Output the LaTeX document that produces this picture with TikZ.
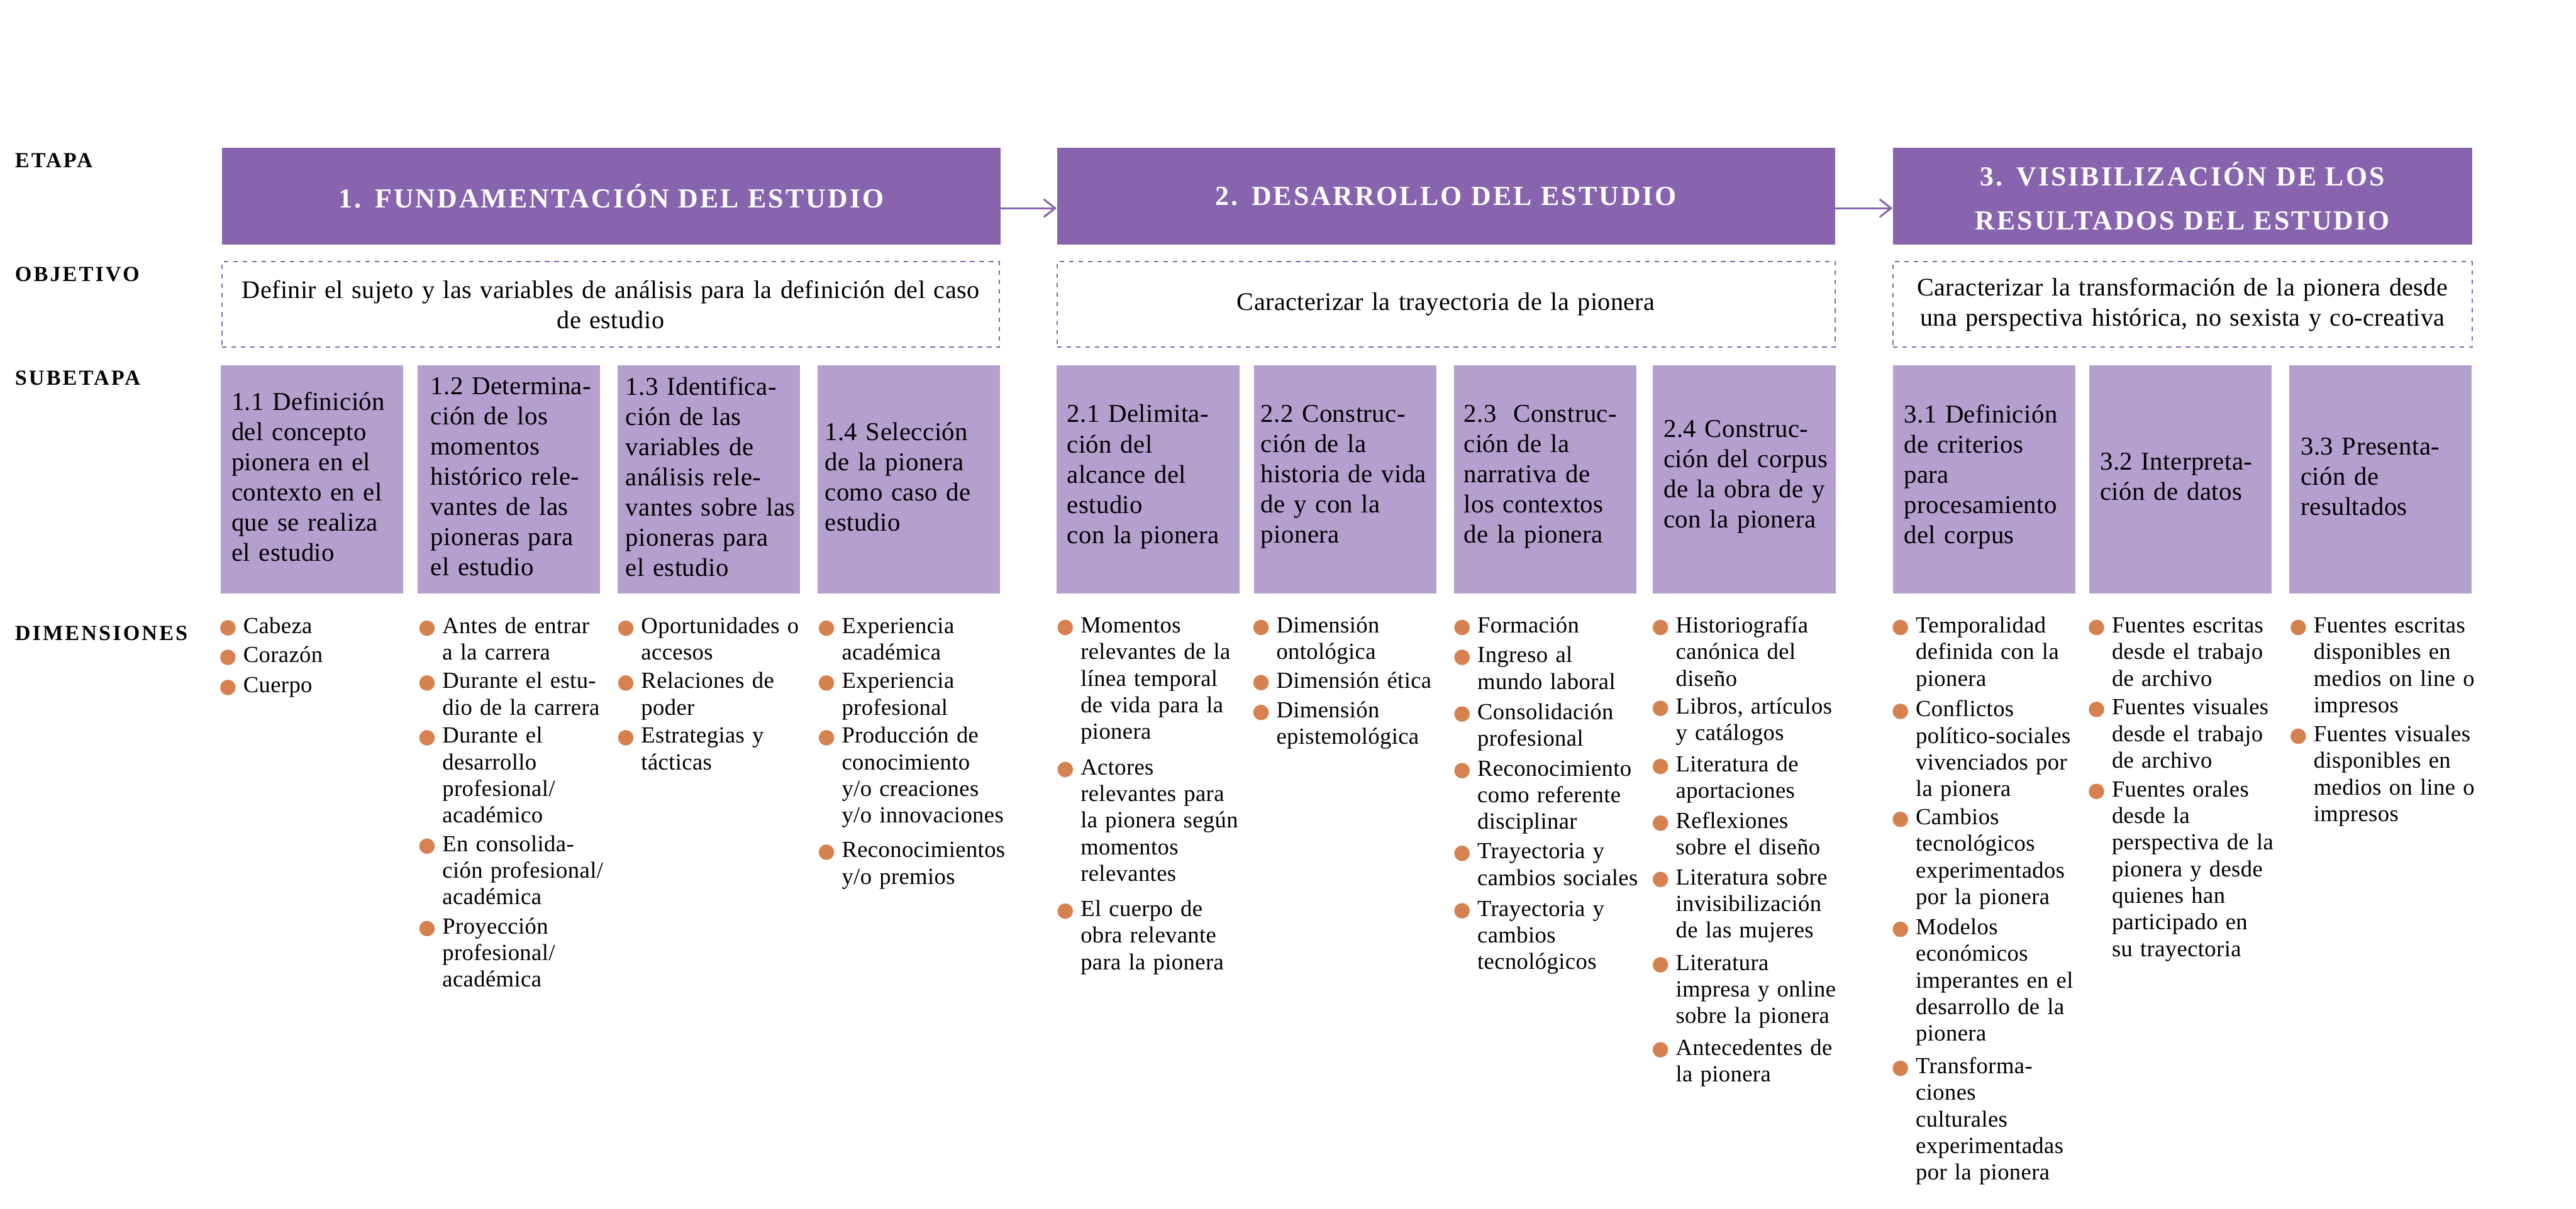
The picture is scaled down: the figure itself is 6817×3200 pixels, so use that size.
\documentclass[tikz,border=0pt]{standalone}
\usepackage{fontspec}
\setmainfont{Liberation Serif}
\newfontfamily\fdim[LetterSpace=1]{Liberation Serif}
\newfontfamily\fsub[LetterSpace=1]{Liberation Serif}
\newfontfamily\fhead[LetterSpace=7]{Liberation Serif}
\newfontfamily\flab[LetterSpace=9]{Liberation Serif}
\usetikzlibrary{arrows.meta}
\definecolor{hdr}{HTML}{8764AD}
\definecolor{subc}{HTML}{B59FCE}
\definecolor{bul}{HTML}{D68150}
\tikzset{
 hbox/.style={fill=hdr, draw=none, text=white, font=\fhead\bfseries\fontsize{20.77}{33}\selectfont, align=center, minimum height=25.7mm, inner sep=0pt},
 obox/.style={draw=hdr, line width=0.35mm, dash pattern=on 1.2mm off 1.3mm, minimum height=22.6mm, font=\fsub\fontsize{19.06}{22.76}\selectfont, align=center, inner sep=0pt},
 sbox/.style={fill=subc, draw=none, minimum width=48.3mm, minimum height=60.4mm, inner sep=0pt},
 stext/.style={font=\fsub\fontsize{19.35}{22.76}\selectfont, text width=47mm, align=left, anchor=west, inner sep=0pt},
 ditem/.style={font=\fdim\fontsize{17.36}{20.03}\selectfont, text width=49mm, align=left, anchor=base west, inner sep=0pt},
 dot/.style={circle, fill=bul, draw=none, minimum size=4.1mm, inner sep=0pt},
 lab/.style={font=\flab\bfseries\fontsize{16.22}{19}\selectfont, anchor=base west, inner sep=0pt},
 arr/.style={draw=hdr, line width=0.5mm, -{Straight Barb[length=3mm,width=4.7mm]}},
}
\newcommand\dimitem[4]{\node[dot] (d#1) at ({#2-40},#3) {}; \node[ditem] (i#1) at (#2,{#3+14}) {#4};}
\begin{document}
\begin{tikzpicture}[x=0.1mm,y=-0.1mm]
\fill[white,use as bounding box] (0,0) rectangle (6817,3200);
% left labels
\node[lab] (lEtapa) at (39,443) {ETAPA};
\node[lab] (lObj) at (39,744) {OBJETIVO};
\node[lab] (lSub) at (39,1019) {SUBETAPA};
\node[lab] (lDim) at (39,1695) {DIMENSIONES};
% stage headers
\node[hbox, minimum width=206.1mm, text width=200mm] (h1) at (1617.5,519.5) {1. FUNDAMENTACIÓN DEL ESTUDIO};
\node[hbox, minimum width=205.9mm, text width=200mm] (h2) at (3826.5,519.5) {2. DESARROLLO DEL ESTUDIO};
\node[hbox, minimum width=153.3mm, text width=148mm] (h3) at (5775.5,519.5) {3. VISIBILIZACIÓN DE LOS\\RESULTADOS DEL ESTUDIO};
\draw[arr] ([yshift=-3.15mm]h1.east) -- ([yshift=-3.15mm]h2.west);
\draw[arr] ([yshift=-3.15mm]h2.east) -- ([yshift=-3.15mm]h3.west);
% objectives
\node[obox, minimum width=205.8mm, text width=201mm] (o1) at (1616,806) {Definir el sujeto y las variables de análisis para la definición del caso\\de estudio};
\node[obox, minimum width=205.9mm, text width=201mm] (o2) at (3826.5,806) {Caracterizar la trayectoria de la pionera};
\node[obox, minimum width=153.3mm, text width=149mm] (o3) at (5775.5,806) {Caracterizar la transformación de la pionera desde\\una perspectiva histórica, no sexista y co-creativa};
% sub-stage boxes
\node[sbox] (s11) at (825,1269) {};
\node[sbox] (s12) at (1346,1269) {};
\node[sbox] (s13) at (1875,1269) {};
\node[sbox] (s14) at (2404.5,1269) {};
\node[sbox] (s21) at (3038,1269) {};
\node[sbox] (s22) at (3559.5,1269) {};
\node[sbox] (s23) at (4088.5,1269) {};
\node[sbox] (s24) at (4616,1269) {};
\node[sbox] (s31) at (5250.5,1269) {};
\node[sbox] (s32) at (5770.5,1269) {};
\node[sbox] (s33) at (6299.5,1269) {};
\node[stext] (t11) at (612,1262) {1.1 Definición\\del concepto\\pionera en el\\contexto en el\\que se realiza\\el estudio};
\node[stext] (t12) at (1139,1262) {1.2 Determina-\\ción de los\\momentos\\histórico rele-\\vantes de las\\pioneras para\\el estudio};
\node[stext] (t13) at (1655,1262) {1.3 Identifica-\\ción de las\\variables de\\análisis rele-\\vantes sobre las\\pioneras para\\el estudio};
\node[stext] (t14) at (2182,1262) {1.4 Selección\\de la pionera\\como caso de\\estudio};
\node[stext] (t21) at (2823,1262) {2.1 Delimita-\\ción del\\alcance del\\estudio\\con la pionera};
\node[stext] (t22) at (3336,1262) {2.2 Construc-\\ción de la\\historia de vida\\de y con la\\pionera};
\node[stext] (t23) at (3873,1262) {2.3\ \ Construc-\\ción de la\\narrativa de\\los contextos\\de la pionera};
\node[stext] (t24) at (4402,1262) {2.4 Construc-\\ción del corpus\\de la obra de y\\con la pionera};
\node[stext] (t31) at (5038,1262) {3.1 Definición\\de criterios\\para\\procesamiento\\del corpus};
\node[stext] (t32) at (5557,1262) {3.2 Interpreta-\\ción de datos};
\node[stext] (t33) at (6088,1262) {3.3 Presenta-\\ción de\\resultados};
% dimensions
\dimitem{11a}{643}{1662}{Cabeza}
\dimitem{11b}{643}{1740}{Corazón}
\dimitem{11c}{643}{1820}{Cuerpo}
\dimitem{12a}{1170}{1663}{Antes de entrar\\a la carrera}
\dimitem{12b}{1170}{1808}{Durante el estu-\\dio de la carrera}
\dimitem{12c}{1170}{1953}{Durante el\\desarrollo\\profesional/\\académico}
\dimitem{12d}{1170}{2240}{En consolida-\\ción profesional/\\académica}
\dimitem{12e}{1170}{2458}{Proyección\\profesional/\\académica}
\dimitem{13a}{1696}{1663}{Oportunidades o\\accesos}
\dimitem{13b}{1696}{1808}{Relaciones de\\poder}
\dimitem{13c}{1696}{1953}{Estrategias y\\tácticas}
\dimitem{14a}{2227}{1663}{Experiencia\\académica}
\dimitem{14b}{2227}{1808}{Experiencia\\profesional}
\dimitem{14c}{2227}{1953}{Producción de\\conocimiento\\y/o creaciones\\y/o innovaciones}
\dimitem{14d}{2227}{2256}{Reconocimientos\\y/o premios}
\dimitem{21a}{2859}{1661}{Momentos\\relevantes de la\\línea temporal\\de vida para la\\pionera}
\dimitem{21b}{2859}{2037}{Actores\\relevantes para\\la pionera según\\momentos\\relevantes}
\dimitem{21c}{2859}{2412}{El cuerpo de\\obra relevante\\para la pionera}
\dimitem{22a}{3377}{1661}{Dimensión\\ontológica}
\dimitem{22b}{3377}{1807}{Dimensión ética}
\dimitem{22c}{3377}{1886}{Dimensión\\epistemológica}
\dimitem{23a}{3909}{1661}{Formación}
\dimitem{23b}{3909}{1740}{Ingreso al\\mundo laboral}
\dimitem{23c}{3909}{1890}{Consolidación\\profesional}
\dimitem{23d}{3909}{2040}{Reconocimiento\\como referente\\disciplinar}
\dimitem{23e}{3909}{2259}{Trayectoria y\\cambios sociales}
\dimitem{23f}{3909}{2411}{Trayectoria y\\cambios\\tecnológicos}
\dimitem{24a}{4434}{1661}{Historiografía\\canónica del\\diseño}
\dimitem{24b}{4434}{1875}{Libros, artículos\\y catálogos}
\dimitem{24c}{4434}{2029}{Literatura de\\aportaciones}
\dimitem{24d}{4434}{2179}{Reflexiones\\sobre el diseño}
\dimitem{24e}{4434}{2328}{Literatura sobre\\invisibilización\\de las mujeres}
\dimitem{24f}{4434}{2554}{Literatura\\impresa y online\\sobre la pionera}
\dimitem{24g}{4434}{2779}{Antecedentes de\\la pionera}
\dimitem{31a}{5069}{1661}{Temporalidad\\definida con la\\pionera}
\dimitem{31b}{5069}{1883}{Conflictos\\político-sociales\\vivenciados por\\la pionera}
\dimitem{31c}{5069}{2169}{Cambios\\tecnológicos\\experimentados\\por la pionera}
\dimitem{31d}{5069}{2460}{Modelos\\económicos\\imperantes en el\\desarrollo de la\\pionera}
\dimitem{31e}{5069}{2828}{Transforma-\\ciones\\culturales\\experimentadas\\por la pionera}
\dimitem{32a}{5588}{1661}{Fuentes escritas\\desde el trabajo\\de archivo}
\dimitem{32b}{5588}{1878}{Fuentes visuales\\desde el trabajo\\de archivo}
\dimitem{32c}{5588}{2095}{Fuentes orales\\desde la\\perspectiva de la\\pionera y desde\\quienes han\\participado en\\su trayectoria}
\dimitem{33a}{6122}{1661}{Fuentes escritas\\disponibles en\\medios on line o\\impresos}
\dimitem{33b}{6122}{1949}{Fuentes visuales\\disponibles en\\medios on line o\\impresos}
\end{tikzpicture}
\end{document}
